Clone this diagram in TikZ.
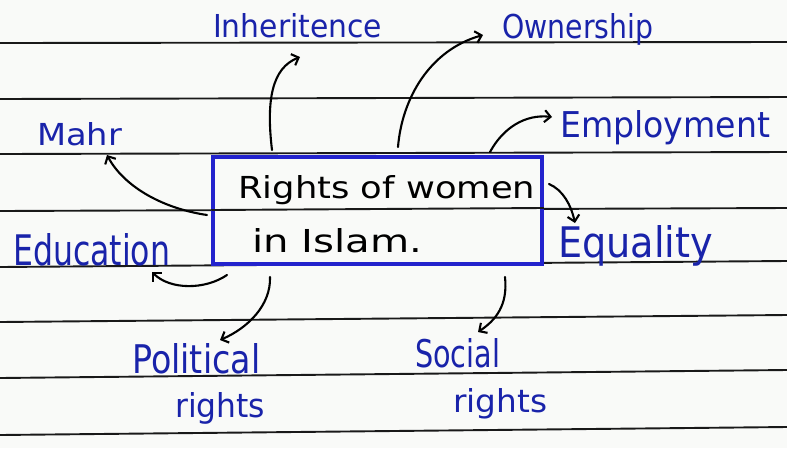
\documentclass[tikz,border=0pt]{standalone}
\usepackage{fontspec}
\usepackage{graphicx}
\setmainfont{DejaVu Sans}
\usetikzlibrary{arrows.meta}
\definecolor{ink}{RGB}{25,35,170}
\definecolor{boxblue}{RGB}{35,35,205}
\definecolor{paper}{RGB}{249,250,248}
\newcommand\hw[3]{\resizebox{#1pt}{#2pt}{#3}}
\tikzset{
  lbl/.style={inner sep=0pt, anchor=base west, text=ink, font=\fontsize{30}{30}\selectfont},
  boxtxt/.style={inner sep=0pt, anchor=base west, text=black, font=\fontsize{30}{30}\selectfont},
  rule/.style={line width=1.9pt, black!90},
  arr/.style={line width=2.1pt, line cap=round, -{Straight Barb[length=6pt,width=12pt,line width=2.1pt]}},
}
\begin{document}
\begin{tikzpicture}[x=1pt,y=-1pt]
\useasboundingbox (0,0) rectangle (787,448);
\fill[paper] (0,0) rectangle (787,448);
% ruled lines
\draw[rule] (0,43) -- (787,42);
\draw[rule] (0,99) -- (787,97);
\draw[rule] (0,154) -- (787,152);
\draw[rule] (0,211) -- (787,208);
\draw[rule] (0,267) -- (787,261);
\draw[rule] (0,322) -- (787,315);
\draw[rule] (0,378) -- (787,370);
\draw[rule] (0,435) -- (787,427);
% central box
\node[draw=boxblue, line width=3.5pt, fill=paper, minimum width=329pt, minimum height=107pt, inner sep=0pt] (box) at (377.5,210.5) {};
\draw[rule] (box.west |- 0,210) -- (box.east |- 0,208);
\node[boxtxt] (t1) at (238,198) {\hw{297}{23}{Rights of women}};
\node[boxtxt] (t2) at (252,252) {\hw{170}{24}{in Islam.}};
% labels
\node[lbl] (inh) at (213,37) {\hw{169}{24}{Inheritence}};
\node[lbl] (own) at (502,38) {\hw{151}{25}{Ownership}};
\node[lbl] (emp) at (560,137) {\hw{210}{27}{Employment}};
\node[lbl] (mahr) at (37,145) {\hw{85}{23}{Mahr}};
\node[lbl] (edu) at (13,265) {\hw{157}{32}{Education}};
\node[lbl] (equ) at (558,257) {\hw{155}{32}{Equality}};
\node[lbl] (pol1) at (132,373) {\hw{128}{30}{Political}};
\node[lbl] (pol2) at (175,417) {\hw{90}{25}{rights}};
\node[lbl] (soc1) at (415,367) {\hw{85}{29}{Social}};
\node[lbl] (soc2) at (453,412) {\hw{94}{24}{rights}};
% arrow end points
\coordinate (sInh) at (272,150);  \coordinate (eInh) at (300,57);
\coordinate (sOwn) at (398,147);  \coordinate (eOwn) at (483,35);
\coordinate (sEmp) at (490,152);  \coordinate (eEmp) at (552,117);
\coordinate (sEqu) at (549,184);  \coordinate (eEqu) at (575,223);
\coordinate (sMah) at (207,215);  \coordinate (eMah) at (107,155);
\coordinate (sEdu) at (227,275);  \coordinate (eEdu) at (152,272);
\coordinate (sPol) at (270,277);  \coordinate (ePol) at (220,340);
\coordinate (sSoc) at (505,277);  \coordinate (eSoc) at (478,332);
% arrows
\draw[arr] (sInh) .. controls (266,100) and (272,68) .. (eInh);
\draw[arr] (sOwn) .. controls (402,98) and (430,50) .. (eOwn);
\draw[arr] (sEmp) .. controls (503,128) and (525,114) .. (eEmp);
\draw[arr] (sEqu) .. controls (563,190) and (571,205) .. (eEqu);
\draw[arr] (sMah) .. controls (160,208) and (123,185) .. (eMah);
\draw[arr] (sEdu) .. controls (205,290) and (170,290) .. (eEdu);
\draw[arr] (sPol) .. controls (271,305) and (248,328) .. (ePol);
\draw[arr] (sSoc) .. controls (508,305) and (496,320) .. (eSoc);
\end{tikzpicture}
\end{document}
